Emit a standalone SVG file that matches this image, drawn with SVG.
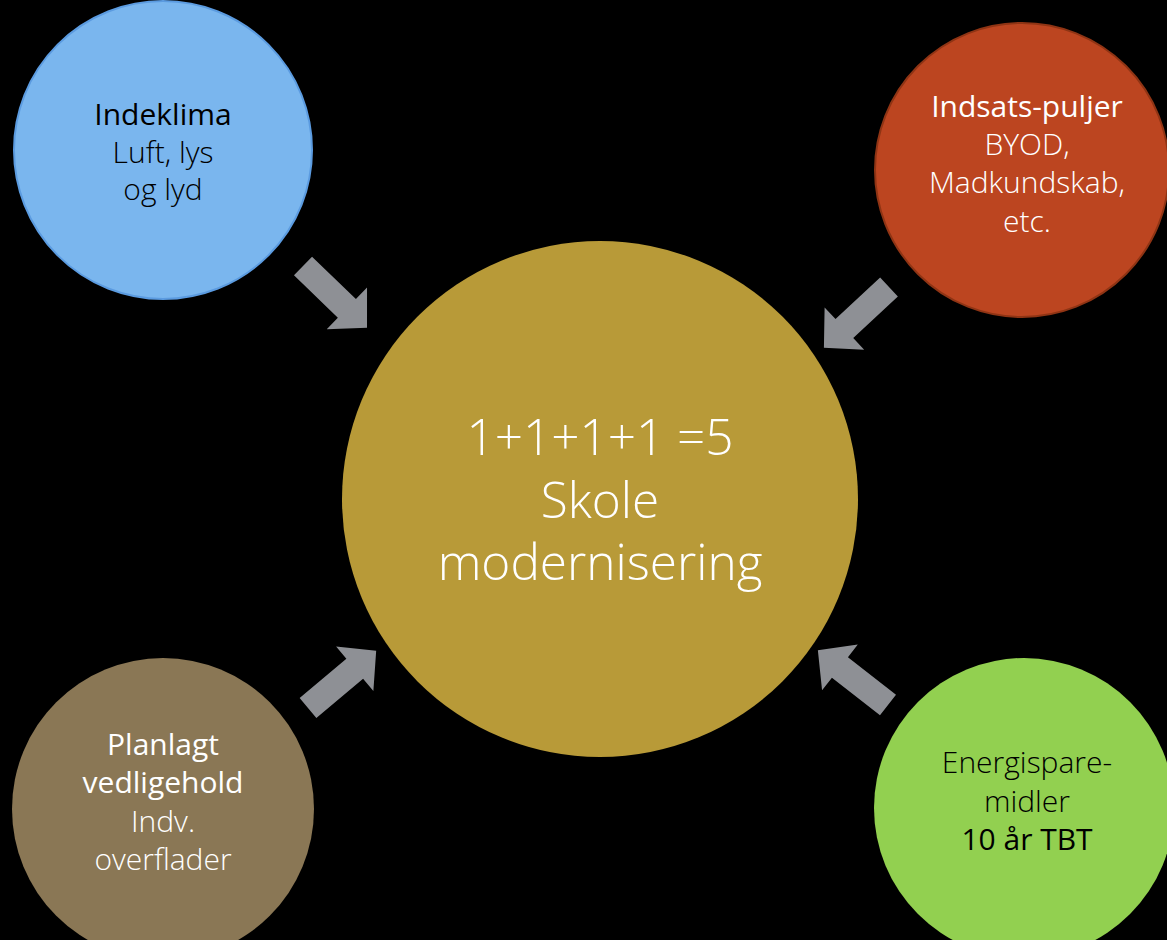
<svg xmlns="http://www.w3.org/2000/svg" width="1167" height="940" viewBox="0 0 1167 940">
<defs>
<style>
.t{font-family:"Open Sans","Noto Sans","Liberation Sans",sans-serif;text-anchor:middle}
.l{font-weight:300}
.r{font-weight:400}
.arrow{fill:#8e9095}
</style>
<polygon id="arr" points="0,-13 61,-13 61,-29 89,0 61,29 61,13 0,13"/>
</defs>
<rect width="1167" height="940" fill="#000"/>
<g id="connectors" class="arrow">
<use href="#arr" transform="translate(303,266) rotate(44)"/>
<use href="#arr" transform="translate(889,287) rotate(137)"/>
<use href="#arr" transform="translate(308,708) rotate(-40)"/>
<use href="#arr" transform="translate(888,705) rotate(218)"/>
</g>
<g id="center">
<circle cx="600" cy="499" r="258" fill="#b89a38"/>
<text class="t l" font-size="49.5" fill="#fff"><tspan x="600" y="455">1+1+1+1 =5</tspan><tspan x="600" y="518">Skole</tspan><tspan x="600" y="580">modernisering</tspan></text>
</g>
<g id="indeklima">
<circle cx="163" cy="150" r="149" fill="#7ab6ee" stroke="#5b9be0" stroke-width="2"/>
<text class="t" font-size="30" fill="#000"><tspan class="r" x="163" y="125">Indeklima</tspan><tspan class="l" x="163" y="163">Luft, lys</tspan><tspan class="l" x="163" y="200">og lyd</tspan></text>
</g>
<g id="indsats">
<circle cx="1022" cy="170" r="147" fill="#bc4520" stroke="#8f3414" stroke-width="2"/>
<text class="t" font-size="30" fill="#fff"><tspan class="r" x="1027" y="117">Indsats-puljer</tspan><tspan class="l" x="1027" y="155">BYOD,</tspan><tspan class="l" x="1027" y="193">Madkundskab,</tspan><tspan class="l" x="1027" y="232">etc.</tspan></text>
</g>
<g id="planlagt">
<circle cx="163" cy="809" r="151" fill="#8a7755"/>
<text class="t" font-size="30" fill="#fff"><tspan class="r" x="163" y="755">Planlagt</tspan><tspan class="r" x="163" y="793">vedligehold</tspan><tspan class="l" x="163" y="832">Indv.</tspan><tspan class="l" x="163" y="870">overflader</tspan></text>
</g>
<g id="energi">
<circle cx="1024" cy="808" r="150" fill="#92d050"/>
<text class="t" font-size="30" fill="#000"><tspan class="l" x="1027" y="773">Energispare-</tspan><tspan class="l" x="1027" y="812">midler</tspan><tspan class="r" x="1027" y="850">10 år TBT</tspan></text>
</g>
</svg>
